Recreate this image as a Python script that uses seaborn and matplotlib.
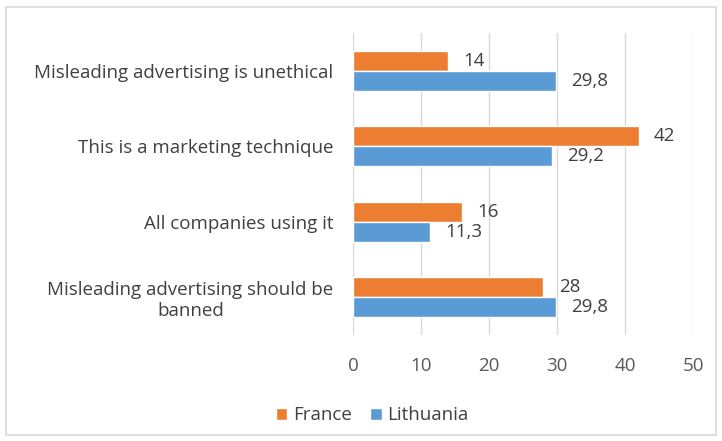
import pandas as pd
import seaborn as sns
import matplotlib.pyplot as plt
from matplotlib.patches import Rectangle

# survey answers, percent of respondents
categories = ["Misleading advertising is unethical",
              "This is a marketing technique",
              "All companies using it",
              "Misleading advertising should be\nbanned"]
france = [14, 42, 16, 28]
lithuania = [29.8, 29.2, 11.3, 29.8]
countries = ["France", "Lithuania"]

df = pd.DataFrame({
    "category": categories * 2,
    "value": france + lithuania,
    "country": ["France"] * 4 + ["Lithuania"] * 4,
})

sns.set_style("white")
plt.rcParams["font.family"] = ["Open Sans", "DejaVu Sans"]
fs = 13.5

fig = plt.figure(figsize=(7.22, 4.41), dpi=100)
ax = fig.add_axes([0.489, 0.24, 0.471, 0.685])

sns.barplot(data=df, y="category", x="value", hue="country", hue_order=countries,
            palette=["#ED7D31", "#5B9BD5"], orient="h", width=0.53, gap=0,
            saturation=1, ax=ax)

# value labels with comma decimals
for cont in ax.containers:
    labels = [f"{v:g}".replace(".", ",") for v in cont.datavalues]
    ax.bar_label(cont, labels=labels, padding=11, fontsize=fs, color="#404040")

ax.set_xlim(0, 50)
ax.set_xticks(range(0, 51, 10))
ax.xaxis.grid(True, color="#D9D9D9", linewidth=1)
ax.set_axisbelow(True)
for s in ax.spines.values():
    s.set_visible(False)
ax.set_xlabel("")
ax.set_ylabel("")
ax.tick_params(axis="x", labelsize=fs, labelcolor="#595959", length=0, pad=16)
ax.tick_params(axis="y", labelsize=fs, labelcolor="#404040", length=0, pad=14)
for t in ax.get_yticklabels():
    t.set_multialignment("center")

ax.legend(loc="upper center", bbox_to_anchor=(0.056, -0.18), ncol=2, frameon=False,
          fontsize=fs, handlelength=0.6, handleheight=0.6, columnspacing=1.0,
          handletextpad=0.3, labelcolor="#404040")

# outer chart border
fig.patches.append(Rectangle((6 / 722, 6 / 441), 710 / 722, 428 / 441,
                             transform=fig.transFigure, fill=False,
                             edgecolor="#D9D9D9", linewidth=1.2))

plt.savefig("out.png")
